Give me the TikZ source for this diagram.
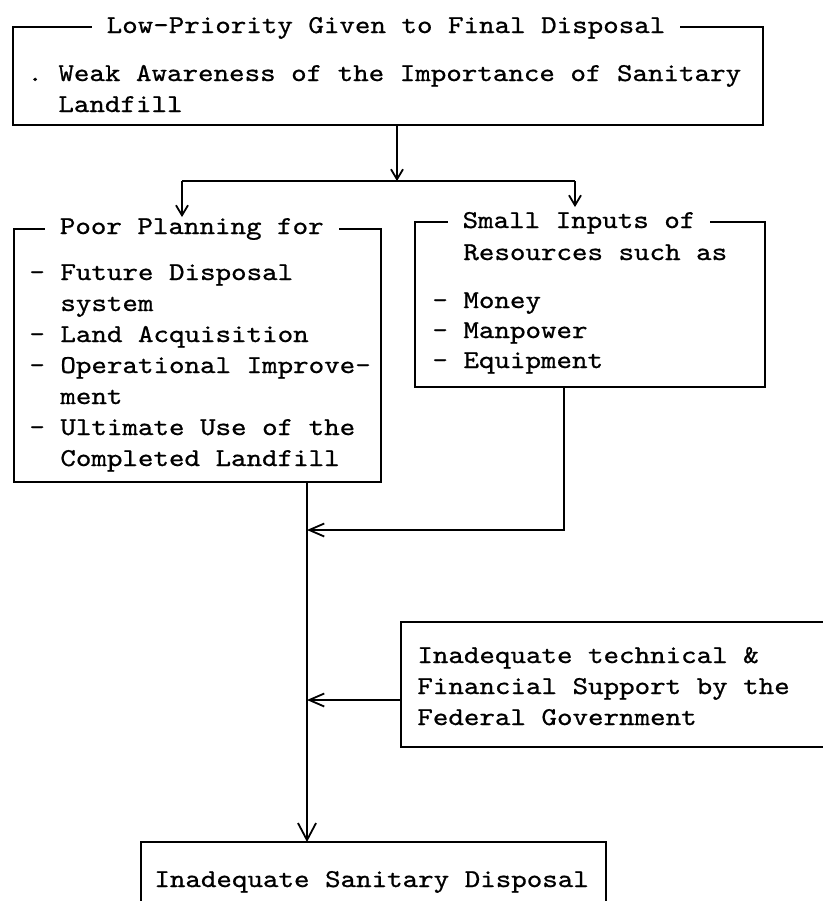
\documentclass[tikz,border=0pt]{standalone}
\usepackage{fontspec}
\setmonofont{lmmono10-regular.otf}[FakeStretch=1.15,FakeBold=0.8]
\usetikzlibrary{arrows.meta}
\newcommand\boxfont{\fontsize{12.85pt}{15.5pt}\selectfont\ttfamily}
\begin{document}
\begin{tikzpicture}[x=0.5pt,y=-0.5pt,
  box/.style={draw, line width=1.1pt, rectangle, inner sep=0pt, outer sep=0pt},
  boxtitle/.style={fill=white, inner xsep=7.5pt, inner ysep=1.5pt, anchor=base, font=\boxfont},
  txt/.style={anchor=base west, inner sep=0pt, font=\boxfont},
  link/.style={line width=1pt},
  tipS/.style={-{Straight Barb[length=5pt,width=6pt,line width=0.9pt]}},
  tipM/.style={-{Straight Barb[length=7.5pt,width=6.5pt,line width=0.9pt]}},
  tipL/.style={-{Straight Barb[length=8.5pt,width=9pt,line width=0.9pt]}}
]
\useasboundingbox (0,0) rectangle (823,901);

% boxes
\node[box, minimum width=375pt, minimum height=49pt]   (A) at (388,76) {};
\node[box, minimum width=183.5pt, minimum height=126.5pt] (B) at (197.5,355.5) {};
\node[box, minimum width=175pt, minimum height=82.5pt] (C) at (590,304.5) {};
\node[box, minimum width=224.5pt, minimum height=62.5pt] (D) at (625.5,684.5) {};
\node[box, minimum width=232.5pt, minimum height=44pt] (E) at (373.5,886) {};

% headings set into the top borders
\node[boxtitle] (Atitle) at (386,33) {Low-Priority Given to Final Disposal};
\node[boxtitle] (Btitle) at (191.75,234) {Poor Planning for};
\node[boxtitle] (Ctitle) at (579,228) {Small Inputs of};

% box contents
\node[txt] (A1) at (27,81)  {. Weak Awareness of the Importance of Sanitary};
\node[txt] (A2) at (58,112) {Landfill};

\node[txt] (B1) at (29,280) {- Future Disposal};
\node[txt] (B2) at (60,311) {system};
\node[txt] (B3) at (29,342) {- Land Acquisition};
\node[txt] (B4) at (29,373) {- Operational Improve-};
\node[txt] (B5) at (60,404) {ment};
\node[txt] (B6) at (29,435) {- Ultimate Use of the};
\node[txt] (B7) at (60,466) {Completed Landfill};

\node[txt] (C1) at (463,260) {Resources such as};
\node[txt] (C2) at (432,308) {- Money};
\node[txt] (C3) at (432,338) {- Manpower};
\node[txt] (C4) at (432,368) {- Equipment};

\node[txt] (D1) at (417,663) {Inadequate technical \&};
\node[txt] (D2) at (417,694) {Financial Support by the};
\node[txt] (D3) at (417,725) {Federal Government};

\node[txt] (E1) at (154,887) {Inadequate Sanitary Disposal};

% junction points
\coordinate (bar)   at (397,181);
\coordinate (barL)  at (182,181);
\coordinate (barR)  at (575,181);
\coordinate (pIn)   at (182,217);
\coordinate (sIn)   at (575,207);
\coordinate (trunk) at (307,0);
\coordinate (cx)    at (564,0);
\coordinate (join1) at (307,530);
\coordinate (join2) at (307,700);

% connectors
\draw[link, tipS] (A.south -| bar) -- (bar);
\draw[link] (barL) -- (barR);
\draw[link, tipS] (barL) -- (pIn);
\draw[link, tipS] (barR) -- (sIn);
\draw[link, tipL] (B.south -| trunk) -- (E.north -| trunk);
\draw[link, tipM] (C.south -| cx) |- (join1);
\draw[link, tipM] (D.west |- join2) -- (join2);
\end{tikzpicture}
\end{document}
